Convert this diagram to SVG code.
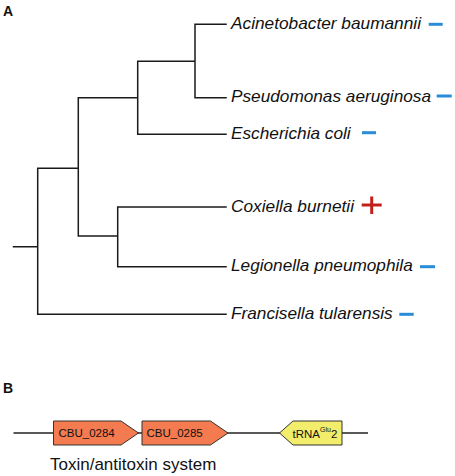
<svg xmlns="http://www.w3.org/2000/svg" width="455" height="476" viewBox="0 0 455 476">
<style>
.br{fill:none;stroke:#1a1a1a;stroke-width:1.5;stroke-linecap:square}
.sp{font-family:"Liberation Sans",Arial,sans-serif;font-style:italic;font-size:16.5px;fill:#111}
.lab{font-family:"Liberation Sans",Arial,sans-serif;font-weight:bold;font-size:14px;fill:#111}
.neg{stroke:#2a8bd6;stroke-width:3}
.pos{stroke:#c0201b;stroke-width:3}
.gene{stroke:#333;stroke-width:1}
.orange{fill:#f47a4f}
.yellow{fill:#f2ee6c}
.gt{font-family:"Liberation Sans",Arial,sans-serif;font-size:11.5px;fill:#111}
.cap{font-family:"Liberation Sans",Arial,sans-serif;font-size:17px;fill:#111}
</style>
<rect width="455" height="476" fill="#fff"/>
<text class="lab" x="3" y="15.5">A</text>
<text class="lab" x="3" y="393">B</text>
<g id="connectors">
<path class="br" d="M13.5 246.7H37.7M37.7 168.3V314.3M37.7 168.3H78.3M37.7 314.3H226M78.3 97.7V236M78.3 97.7H137.7M78.3 236H117.7M117.7 207V266.7M117.7 207H226M117.7 266.7H226M137.7 61.3V134.3M137.7 61.3H195M137.7 134.3H226M195 24.3V97.7M195 24.3H226M195 97.7H226"/>
<path d="M13.5 433H368" stroke="#222" stroke-width="1.3"/>
</g>
<g id="acinetobacter">
<text class="sp" x="231" y="28.8" textLength="190" lengthAdjust="spacingAndGlyphs">Acinetobacter baumannii</text>
<line class="neg" x1="428.7" y1="24.3" x2="442.7" y2="24.3"/>
</g>
<g id="pseudomonas">
<text class="sp" x="231" y="102" textLength="200" lengthAdjust="spacingAndGlyphs">Pseudomonas aeruginosa</text>
<line class="neg" x1="436.7" y1="96" x2="451.7" y2="96"/>
</g>
<g id="escherichia">
<text class="sp" x="231" y="138.8" textLength="119.7" lengthAdjust="spacingAndGlyphs">Escherichia coli</text>
<line class="neg" x1="362" y1="132.7" x2="376" y2="132.7"/>
</g>
<g id="coxiella">
<text class="sp" x="231" y="211.5" textLength="123" lengthAdjust="spacingAndGlyphs">Coxiella burnetii</text>
<line class="pos" x1="361.7" y1="205" x2="381.7" y2="205"/>
<line class="pos" x1="371.7" y1="196.5" x2="371.7" y2="214"/>
</g>
<g id="legionella">
<text class="sp" x="231" y="271.2" textLength="181.7" lengthAdjust="spacingAndGlyphs">Legionella pneumophila</text>
<line class="neg" x1="420" y1="266.7" x2="435" y2="266.7"/>
</g>
<g id="francisella">
<text class="sp" x="231" y="318.8" textLength="161.7" lengthAdjust="spacingAndGlyphs">Francisella tularensis</text>
<line class="neg" x1="399.3" y1="314.3" x2="413.7" y2="314.3"/>
</g>
<g id="cbu0284">
<path class="gene orange" d="M53.5 421H121L138.5 433L121 445H53.5Z"/>
<text class="gt" x="58.5" y="437.3">CBU_0284</text>
</g>
<g id="cbu0285">
<path class="gene orange" d="M142 421H210.5L228 433L210.5 445H142Z"/>
<text class="gt" x="146.5" y="437.3">CBU_0285</text>
</g>
<g id="trna">
<path class="gene yellow" d="M342 421H293L279.5 433L293 445H342Z"/>
<text class="gt" x="292.5" y="437.8" font-size="12.5">tRNA<tspan font-size="7" dy="-5.5">Glu</tspan><tspan dy="5.5">2</tspan></text>
</g>
<text class="cap" x="50" y="470">Toxin/antitoxin system</text>
</svg>
